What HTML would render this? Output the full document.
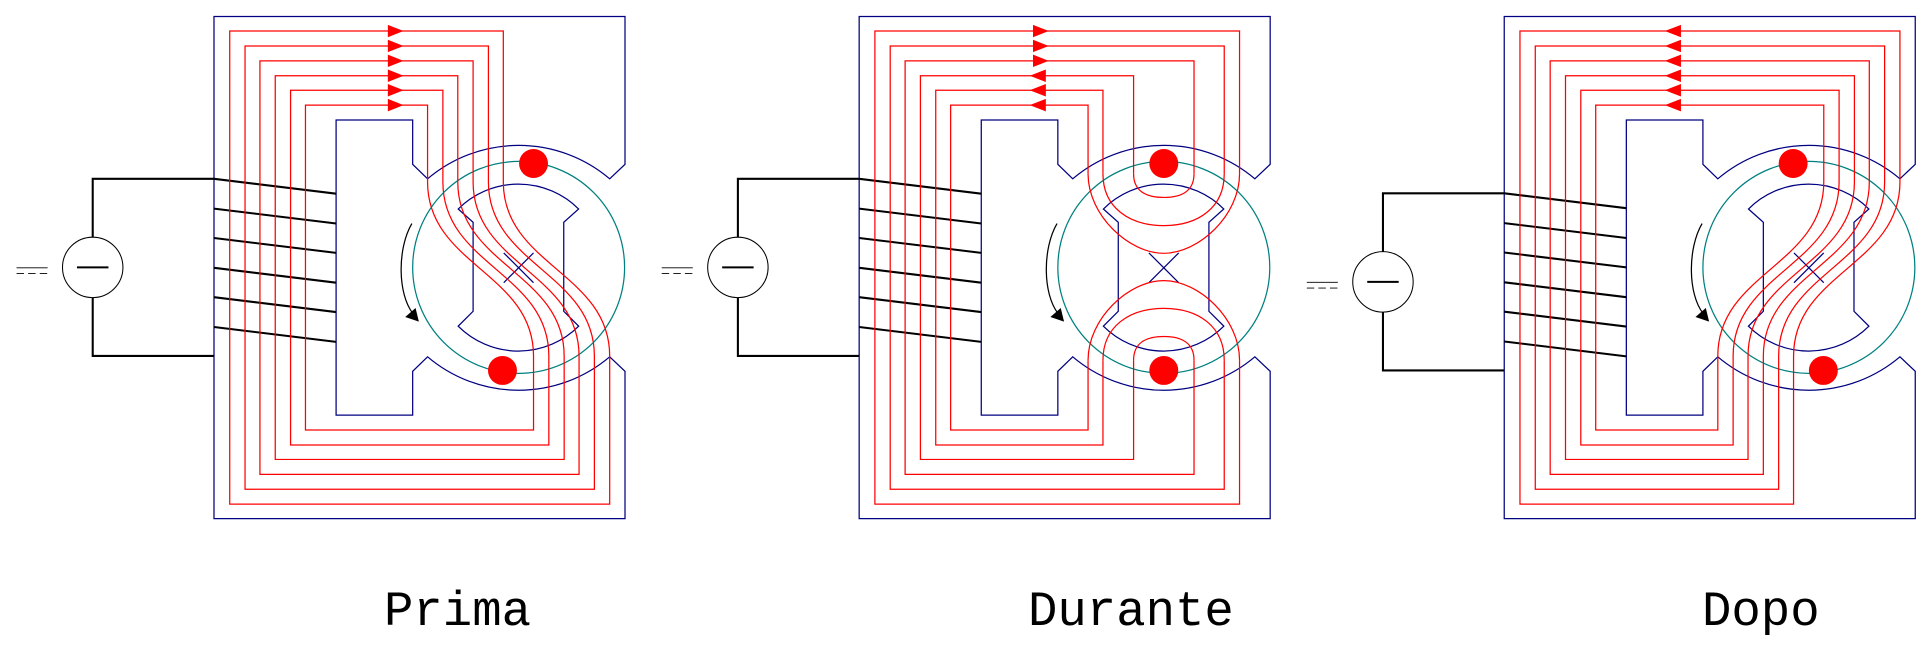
<!DOCTYPE html>
<html><head><meta charset="utf-8"><style>
html,body{margin:0;padding:0;background:#fff;}
svg{display:block;}
text{font-family:"Liberation Mono",monospace;font-size:49px;fill:#000;}
</style></head><body>
<svg width="1923" height="658" viewBox="0 0 1923 658" xmlns="http://www.w3.org/2000/svg">
<defs>
<g id="base">
  <path d="M1510,397 V40 H517 V1253 H1510 V897 L1473,862 A340,340 0 0 1 1033,862 L997,897 V1003 H812 V290 H997 V397 L1033,432 A340,340 0 0 1 1473,432 Z" fill="none" stroke="#000080" stroke-width="3"/>
  <circle cx="1253" cy="646" r="256" fill="none" stroke="#008080" stroke-width="3"/>
  <path d="M1107,505 L1143,537 V752 L1107,788 A206,206 0 0 0 1398,788 L1362,752 V537 L1398,505 A206,206 0 0 0 1107,505 Z" fill="none" stroke="#000080" stroke-width="3"/>
  <path d="M1217,611 L1289,683 M1217,683 L1289,611" stroke="#000080" stroke-width="3"/>
  <path d="M995,540 C960,600 960,710 998,758" fill="none" stroke="#000" stroke-width="3"/>
  <polygon points="1012,777 979,766 1004,744" fill="#000"/>
</g>
<g id="circuit">
  <g stroke="#000" stroke-width="5">
    <line x1="517" y1="432" x2="812" y2="468"/>
    <line x1="517" y1="504" x2="812" y2="540"/>
    <line x1="517" y1="575" x2="812" y2="611"/>
    <line x1="517" y1="647" x2="812" y2="683"/>
    <line x1="517" y1="718" x2="812" y2="754"/>
    <line x1="517" y1="790" x2="812" y2="826"/>
  </g>
  <path d="M517,432 H224 V577 M224,718 V860 H517" fill="none" stroke="#000" stroke-width="5"/>
  <circle cx="224" cy="646" r="73" fill="#fff" stroke="#000" stroke-width="2.5"/>
  <line x1="186" y1="646" x2="262" y2="646" stroke="#000" stroke-width="5"/>
  <line x1="40" y1="647" x2="115" y2="647" stroke="#000" stroke-width="2"/>
  <line x1="40" y1="661" x2="115" y2="661" stroke="#000" stroke-width="2" stroke-dasharray="18,10"/>
</g>
</defs>

<!-- PRIMA -->
<g transform="scale(0.41391)">
  <use href="#base"/>
  <use href="#circuit"/>
  <g fill="none" stroke="#ff0000" stroke-width="3">
    <path d="M1216,440 V75 H555 V1218 H1473 V860 C1473,660 1216,640 1216,440"/>
    <path d="M1180,440 V111 H592 V1182 H1436 V860 C1436,660 1180,640 1180,440"/>
    <path d="M1143,440 V147 H628 V1146 H1399 V860 C1399,660 1143,640 1143,440"/>
    <path d="M1106,440 V183 H665 V1110 H1363 V860 C1363,660 1106,640 1106,440"/>
    <path d="M1070,440 V218 H702 V1075 H1326 V860 C1326,660 1070,640 1070,440"/>
    <path d="M1033,440 V254 H738 V1039 H1289 V860 C1289,660 1033,640 1033,440"/>
  </g>
  <g fill="#ff0000">
    <polygon points="937,60 975,75 937,90"/>
    <polygon points="937,96 975,111 937,126"/>
    <polygon points="937,132 975,147 937,162"/>
    <polygon points="937,168 975,183 937,198"/>
    <polygon points="937,203 975,218 937,233"/>
    <polygon points="937,239 975,254 937,269"/>
    <circle cx="1289" cy="395" r="35"/>
    <circle cx="1214" cy="895" r="35"/>
  </g>
</g>

<!-- DURANTE -->
<g transform="translate(640,0) scale(0.41391) translate(12.5,0)">
  <use href="#base"/>
  <use href="#circuit"/>
  <g fill="none" stroke="#ff0000" stroke-width="3">
    <path d="M1436,420 V75 H555 V1218 H1436 V870"/>
    <path d="M1399,420 V111 H592 V1182 H1399 V870"/>
    <path d="M1326,420 V147 H628 V1146 H1326 V870"/>
    <path d="M1180,420 V183 H665 V1110 H1180 V870"/>
    <path d="M1106,420 V218 H702 V1075 H1106 V870"/>
    <path d="M1070,420 V254 H738 V1039 H1070 V870"/>
    <path d="M1070,420 C1070,520 1168,612 1253,612 S1436,520 1436,420"/>
    <path d="M1106,420 C1106,500 1168,545 1253,545 S1399,500 1399,420"/>
    <path d="M1180,420 C1180,460 1208,477 1253,477 S1326,460 1326,420"/>
    <path d="M1070,870 C1070,770 1168,678 1253,678 S1436,770 1436,870"/>
    <path d="M1106,870 C1106,790 1168,745 1253,745 S1399,790 1399,870"/>
    <path d="M1180,870 C1180,830 1208,813 1253,813 S1326,830 1326,870"/>
  </g>
  <g fill="#ff0000">
    <polygon points="937,60 975,75 937,90"/>
    <polygon points="937,96 975,111 937,126"/>
    <polygon points="937,132 975,147 937,162"/>
    <polygon points="968,168 929,183 968,198"/>
    <polygon points="968,203 929,218 968,233"/>
    <polygon points="968,239 929,254 968,269"/>
    <circle cx="1253" cy="395" r="35"/>
    <circle cx="1253" cy="895" r="35"/>
  </g>
</g>

<!-- DOPO -->
<g transform="translate(1283,0) scale(0.41391) translate(17.5,0)">
  <use href="#base"/>
  <use href="#circuit" transform="translate(0,35)"/>
  <g fill="none" stroke="#ff0000" stroke-width="3">
    <path d="M1473,440 V75 H555 V1218 H1216 V860 C1216,660 1473,640 1473,440"/>
    <path d="M1436,440 V111 H592 V1182 H1180 V860 C1180,660 1436,640 1436,440"/>
    <path d="M1399,440 V147 H628 V1146 H1143 V860 C1143,660 1399,640 1399,440"/>
    <path d="M1363,440 V183 H665 V1110 H1106 V860 C1106,660 1363,640 1363,440"/>
    <path d="M1326,440 V218 H702 V1075 H1070 V860 C1070,660 1326,640 1326,440"/>
    <path d="M1289,440 V254 H738 V1039 H1033 V860 C1033,660 1289,640 1289,440"/>
  </g>
  <g fill="#ff0000">
    <polygon points="944,60 905,75 944,90"/>
    <polygon points="944,96 905,111 944,126"/>
    <polygon points="944,132 905,147 944,162"/>
    <polygon points="944,168 905,183 944,198"/>
    <polygon points="944,203 905,218 944,233"/>
    <polygon points="944,239 905,254 944,269"/>
    <circle cx="1215" cy="395" r="35"/>
    <circle cx="1288" cy="895" r="35"/>
  </g>
</g>

<text x="384" y="625">Prima</text>
<text x="1028" y="625">Durante</text>
<text x="1702" y="625">Dopo</text>
</svg>
</body></html>
